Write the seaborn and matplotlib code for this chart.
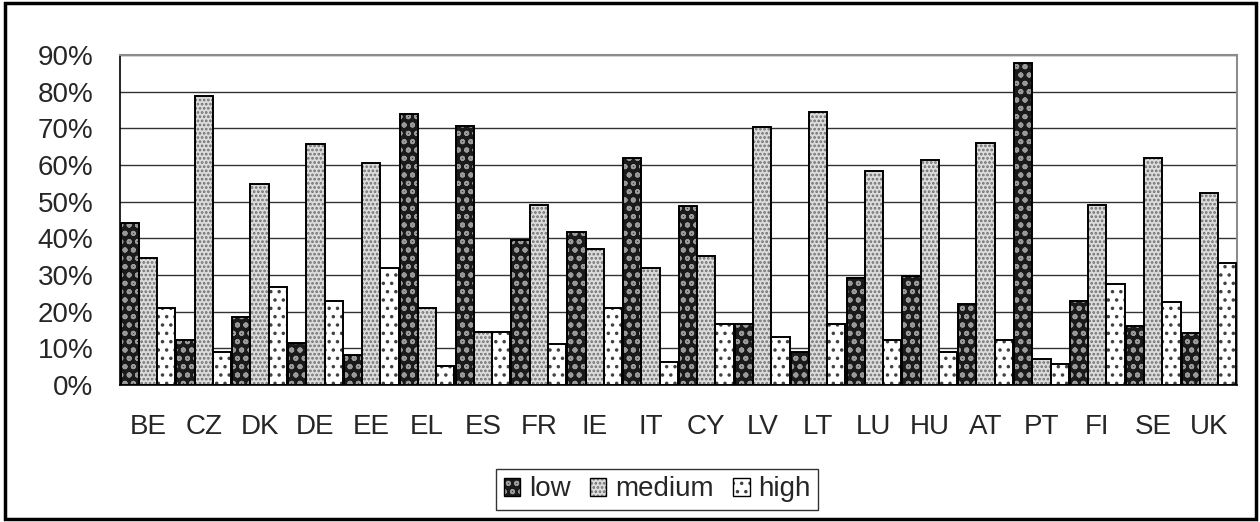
import numpy as np
import pandas as pd
import seaborn as sns
import matplotlib
import matplotlib.pyplot as plt
from matplotlib.patches import Rectangle, Patch
from matplotlib.ticker import MultipleLocator, PercentFormatter

matplotlib.use("Agg")

# ─── data (shares) ────────────────────────────────────────────────
COUNTRIES = ["BE", "CZ", "DK", "DE", "EE", "EL", "ES", "FR", "IE", "IT",
             "CY", "LV", "LT", "LU", "HU", "AT", "PT", "FI", "SE", "UK"]
LOW    = [44.1, 12.3, 18.5, 11.4, 8.1, 74.0, 70.7, 39.5, 41.7, 61.9,
          48.7, 16.5, 9.0, 29.1, 29.6, 22.1, 87.7, 23.0, 16.0, 14.2]
MEDIUM = [34.7, 78.7, 54.9, 65.6, 60.5, 21.1, 14.5, 49.2, 37.1, 31.9,
          35.2, 70.4, 74.5, 58.5, 61.4, 66.1, 7.0, 49.2, 61.8, 52.5]
HIGH   = [21.1, 8.9, 26.8, 23.0, 31.9, 5.2, 14.5, 11.3, 21.1, 6.2,
          16.5, 13.1, 16.5, 12.2, 8.9, 12.2, 5.6, 27.6, 22.5, 33.3]
LEVELS = ["low", "medium", "high"]

# style per level: face, hatch, hatch colour
STYLE = {
    "low":    ("#1a1a1a", "oo",   "#9a9a9a"),
    "medium": ("#dcdcdc", "....", "#6e6e6e"),
    "high":   ("#ffffff", "..",   "#404040"),
}

df = pd.DataFrame({
    "country": COUNTRIES * 3,
    "level": ["low"] * 20 + ["medium"] * 20 + ["high"] * 20,
    "share": LOW + MEDIUM + HIGH,
})

sns.set_style("white")
plt.rcParams["font.family"] = ["Liberation Sans", "DejaVu Sans"]
plt.rcParams["font.size"] = 20
plt.rcParams["hatch.linewidth"] = 1.3

fig = plt.figure(figsize=(12.6, 5.22), dpi=100)
ax = fig.add_axes([0.0952, 0.2625, 0.8865, 0.6321])

sns.barplot(data=df, x="country", y="share", hue="level", hue_order=LEVELS,
            order=COUNTRIES, width=0.98, gap=0, palette=["#ffffff"] * 3,
            ax=ax, legend=False, zorder=3)

for patch, lvl in zip(ax.patches, np.repeat(LEVELS, len(COUNTRIES))):
    face, hatch, hcol = STYLE[lvl]
    patch.set_facecolor(face)
    patch.set_edgecolor(hcol)
    patch.set_hatch(hatch)
    patch.set_linewidth(0)
    # black outline on top
    ax.add_patch(Rectangle(patch.get_xy(), patch.get_width(), patch.get_height(),
                           fill=False, edgecolor="black", linewidth=1.4, zorder=4))

ax.set_ylim(0, 90)
ax.set_xlim(-0.5, len(COUNTRIES) - 0.5)
ax.yaxis.set_major_locator(MultipleLocator(10))
ax.yaxis.set_major_formatter(PercentFormatter(decimals=0))
ax.grid(axis="y", color="#333333", linewidth=1.0, zorder=0)
ax.set_axisbelow(True)
ax.set_xlabel("")
ax.set_ylabel("")

# category separators as minor ticks on x
ax.set_xticks(np.arange(-0.5, len(COUNTRIES), 1.0), minor=True)
ax.tick_params(axis="x", which="major", length=0, pad=21)
ax.tick_params(axis="x", which="minor", length=8, width=1, color="black", direction="out")
ax.tick_params(axis="y", length=8, width=1, color="black", direction="out", pad=11)

for side in ["left", "bottom"]:
    ax.spines[side].set_color("black")
    ax.spines[side].set_linewidth(1.2)
for side in ["top", "right"]:
    ax.spines[side].set_visible(True)
    ax.spines[side].set_color("#8c8c8c")
    ax.spines[side].set_linewidth(1.5)

# legend below: hatch patch + black outline overlaid
handles = [(Patch(facecolor=STYLE[l][0], edgecolor=STYLE[l][2], hatch=STYLE[l][1],
                  linewidth=0),
            Patch(fill=False, edgecolor="black", linewidth=1.0)) for l in LEVELS]
leg = fig.legend(handles, LEVELS, loc="center", bbox_to_anchor=(0.5214, 0.0623),
                 ncol=3, frameon=True, fancybox=False, edgecolor="black",
                 handlelength=0.6, handleheight=0.6, handletextpad=0.3,
                 columnspacing=0.7, borderpad=0.28, borderaxespad=0)
leg.get_frame().set_linewidth(1.0)

# outer frame
fig.patches.append(Rectangle((0.004, 0.006), 0.993, 0.988, transform=fig.transFigure,
                             fill=False, edgecolor="black", linewidth=2.5))

fig.savefig("out.png", dpi=100)
plt.close(fig)
